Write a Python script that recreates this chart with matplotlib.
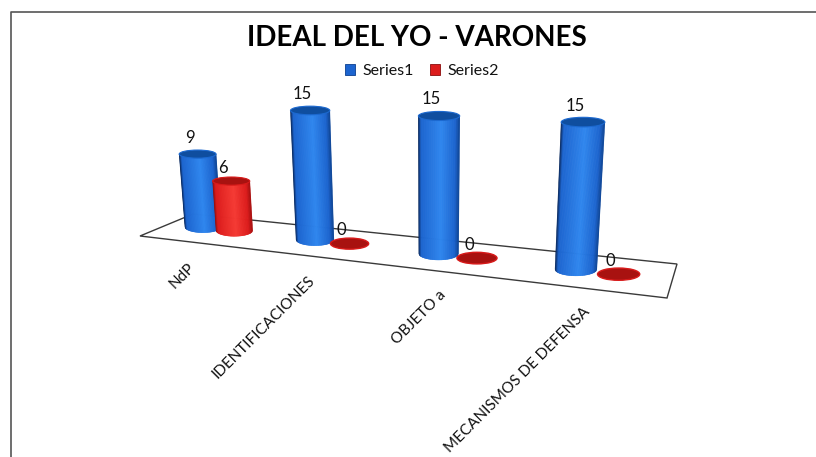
import numpy as np
import matplotlib
matplotlib.use("Agg")
import matplotlib.pyplot as plt
from matplotlib.collections import PolyCollection
from matplotlib.colors import to_rgb
from matplotlib.patches import Ellipse, Polygon, Patch

categories = ["NdP", "IDENTIFICACIONES", "OBJETO a", "MECANISMOS DE DEFENSA"]
series1 = [9, 15, 15, 15]
series2 = [6, 0, 0, 0]
series_names = ["Series1", "Series2"]
title = "IDEAL DEL YO - VARONES"

plt.rcParams["font.family"] = ["Lato", "DejaVu Sans"]
W, H = 816, 457
fig = plt.figure(figsize=(W / 100, H / 100), dpi=100)
ax = fig.add_axes([0, 0, 1, 1])
ax.set_xlim(0, W)
ax.set_ylim(H, 0)
ax.axis("off")

# perspective model of the chart floor
VP = (430.0, 3300.0)


def base_x(u):
    return (97.1 * u + 203) / (1 - 0.04725 * u)


def base_y(x):
    return 227 + 0.1135 * (x - 203)


def unit_height(x):
    return 8.1 + 0.0046 * (x - 203)


def radius(x):
    return 18 + 0.0075 * (x - 203)


def shade(color_mid, color_bright, color_dark_l, color_dark_r, s):
    stops = [-1, -0.86, 0.12, 0.8, 1]
    c = [np.array(to_rgb(k)) for k in (color_dark_l, color_mid, color_bright, color_mid, color_dark_r)]
    return tuple(np.interp(s, stops, [p[i] for p in c]) for i in range(3))


BLUE = dict(mid="#1c64cf", bright="#2f86ee", dark_l="#04204f", dark_r="#0e4596", top="#0f4e9f", rim="#1c69d0")
RED = dict(mid="#dc1c1c", bright="#f53a34", dark_l="#8a0c0c", dark_r="#a81010", top="#a81210", rim="#d81a1a")


def cylinder(u, value, st, z):
    bx = base_x(u)
    by = base_y(bx)
    r = radius(bx)
    h = value * unit_height(bx)
    grow = 1 + h / (VP[1] - by)
    tx = VP[0] + (bx - VP[0]) * grow
    ty = by - h
    rt = r * grow
    if value > 0:
        s = np.linspace(-1, 1, 61)
        polys, cols = [], []
        for a, b in zip(s[:-1], s[1:]):
            polys.append([
                (bx + a * r, by + 0.31 * r * np.sqrt(1 - a * a)),
                (bx + b * r, by + 0.31 * r * np.sqrt(1 - b * b)),
                (tx + b * rt, ty),
                (tx + a * rt, ty),
            ])
            cols.append(shade(st["mid"], st["bright"], st["dark_l"], st["dark_r"], (a + b) / 2))
        ax.add_collection(PolyCollection(polys, facecolors=cols, edgecolors=cols, linewidths=0.4, zorder=z))
        ax.add_patch(Ellipse((tx, ty), 2 * rt, 0.22 * 2 * rt, fc=st["top"], ec=st["rim"], lw=0.8, zorder=z + 0.1))
    else:
        ax.add_patch(Ellipse((bx, by), 2 * r, 0.29 * 2 * r, fc=st["top"], ec=st["rim"], lw=1.0, zorder=z + 0.1))
    return tx, ty


# frame
ax.plot([11, 11, W], [H, 12, 12], color="#555555", lw=1.2, zorder=1)

# floor
ax.add_patch(Polygon([(140, 236), (193, 214), (677, 264), (667, 298)], closed=True,
                     fc="white", ec="#3a3a3a", lw=1.0, zorder=2))

# cylinders and value labels
z = 3
for i, (a, b) in enumerate(zip(series1, series2)):
    for off, val, st, dy in ((0.0, a, BLUE, -16.5), (0.29, b, RED, -13.5)):
        tx, ty = cylinder(i + off, val, st, z)
        z += 1
        ax.text(tx - 8, ty + dy, str(val), fontsize=12, ha="center", va="center",
                color="#111111", zorder=40)

# category labels
for i, name in enumerate(categories):
    x = base_x(i) - 10 + 7.4 * i
    y = 236 + 0.118 * (x - 140) + 23 - 0.8 * i
    ax.text(x, y, name, rotation=45, rotation_mode="anchor", ha="right", va="center",
            fontsize=11, color="#111111", zorder=40)

# title and legend
ax.text(417, 38, title, fontsize=20, fontweight="bold", ha="center", va="center", color="black")
handles = [Patch(fc="#1c64cf", ec="#0b3f8f", lw=0.6), Patch(fc="#dc1c1c", ec="#8a0c0c", lw=0.6)]
ax.legend(handles, series_names, loc="center", bbox_to_anchor=(422, 71), bbox_transform=ax.transData,
          ncol=2, frameon=False, fontsize=11.5, handlelength=0.62, handleheight=0.65,
          handletextpad=0.45, columnspacing=1.0, labelcolor="#111111")

fig.savefig("out.png", dpi=100)
